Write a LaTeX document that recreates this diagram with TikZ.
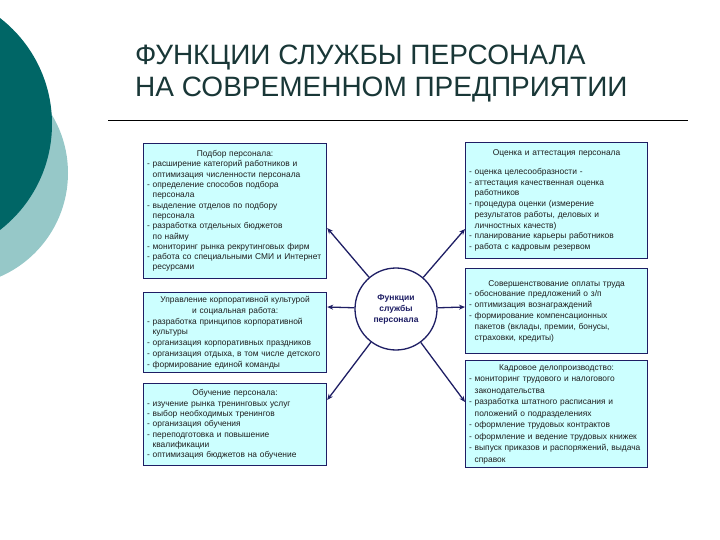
\documentclass[tikz,border=0pt]{standalone}
\usepackage{fontspec}
\setmainfont{Liberation Sans}
\usetikzlibrary{arrows.meta}
\definecolor{teald}{RGB}{0,102,102}
\definecolor{teall}{RGB}{150,200,200}
\definecolor{navy}{RGB}{30,30,100}
\definecolor{boxfill}{RGB}{204,255,255}
\definecolor{titlecol}{RGB}{25,55,55}
\definecolor{txt}{RGB}{30,30,30}
\tikzset{
  titletext/.style={font=\fontsize{28}{32}\selectfont, text=titlecol, inner sep=0pt, anchor=base west},
  infobox/.style n args={4}{draw=navy, line width=1.2pt, fill=boxfill, text=txt,
     anchor=north west, align=left, inner xsep=3pt, inner ysep=2pt,
     minimum width=#1pt, minimum height=#2pt, text width=#3pt,
     font=\fontsize{8.4}{#4}\selectfont},
  hub/.style={draw=navy, line width=1.3pt, circle, minimum size=82pt, fill=white,
     font=\bfseries\fontsize{8.5}{11}\selectfont, text=navy, align=center, inner sep=0pt},
  arr/.style={draw=navy, line width=1.3pt, -{Stealth[length=6pt,width=5pt]}}
}
\newcommand{\ind}{\phantom{- }}
\begin{document}
\begin{tikzpicture}[x=1pt,y=-1pt]
\useasboundingbox (0,0) rectangle (720,540);
\begin{scope}
  \clip (0,0) rectangle (720,540);
  \fill[teall] (-45,173) circle (113pt);
  \fill[teald] (-82,124) circle (134pt);
\end{scope}

\node[titletext] (t1) at (135,65) {ФУНКЦИИ СЛУЖБЫ ПЕРСОНАЛА};
\node[titletext] (t2) at (135,97) {НА СОВРЕМЕННОМ ПРЕДПРИЯТИИ};
\coordinate (r1) at (108,120);
\coordinate (r2) at (688,120);
\draw[line width=0.8pt] (r1) -- (r2);

\node[infobox={183}{135}{176}{10.3}] (l1) at (143,143) {%
\centerline{Подбор персонала:}
- расширение категорий работников и\\
\ind оптимизация численности персонала\\
- определение способов подбора\\
\ind персонала\\
- выделение отделов по подбору\\
\ind персонала\\
- разработка отдельных бюджетов\\
\ind по найму\\
- мониторинг рынка рекрутинговых фирм\\
- работа со специальными СМИ и Интернет\\
\ind ресурсами};

\node[infobox={183}{80}{176}{10.8}] (l2) at (143,292) {%
\centerline{Управление корпоративной культурой}
\centerline{и социальная работа:}
- разработка принципов корпоративной\\
\ind культуры\\
- организация корпоративных праздников\\
- организация отдыха, в том числе детского\\
- формирование единой команды};

\node[infobox={183}{82}{176}{10.3}] (l3) at (143,383) {%
\centerline{Обучение персонала:}
- изучение рынка тренинговых услуг\\
- выбор необходимых тренингов\\
- организация обучения\\
- переподготовка и повышение\\
\ind квалификации\\
- оптимизация бюджетов на обучение};

\node[infobox={182}{116}{175}{10.7}] (p1) at (465,142) {%
\centerline{Оценка и аттестация персонала}
\vskip 8pt
- оценка целесообразности -\\
- аттестация качественная оценка\\
\ind работников\\
- процедура оценки (измерение\\
\ind результатов работы, деловых и\\
\ind личностных качеств)\\
- планирование карьеры работников\\
- работа с кадровым резервом};

\node[infobox={182}{85}{175}{10.8}] (p2) at (465,268) {%
\centerline{Совершенствование оплаты труда}
- обоснование предложений о з/п\\
- оптимизация вознаграждений\\
- формирование компенсационных\\
\ind пакетов (вклады, премии, бонусы,\\
\ind страховки, кредиты)};

\node[infobox={182}{107}{175}{11.5}] (p3) at (465,360) {%
\centerline{Кадровое делопроизводство:}
- мониторинг трудового и налогового\\
\ind законодательства\\
- разработка штатного расписания и\\
\ind положений о подразделениях\\
- оформление трудовых контрактов\\
- оформление и ведение трудовых книжек\\
- выпуск приказов и распоряжений, выдача\\
\ind справок};

\node[hub] (c) at (396,309) {Функции\\службы\\персонала};

\draw[arr] (c) -- (l1.east |- 0,228);
\draw[arr] (c) -- (p1.west |- 0,229);
\draw[arr] (c) -- (l2.east |- 0,307);
\draw[arr] (c) -- (p2.west |- 0,307);
\draw[arr] (c) -- (l3.east |- 0,400);
\draw[arr] (c) -- (p3.west |- 0,402);
\end{tikzpicture}
\end{document}
